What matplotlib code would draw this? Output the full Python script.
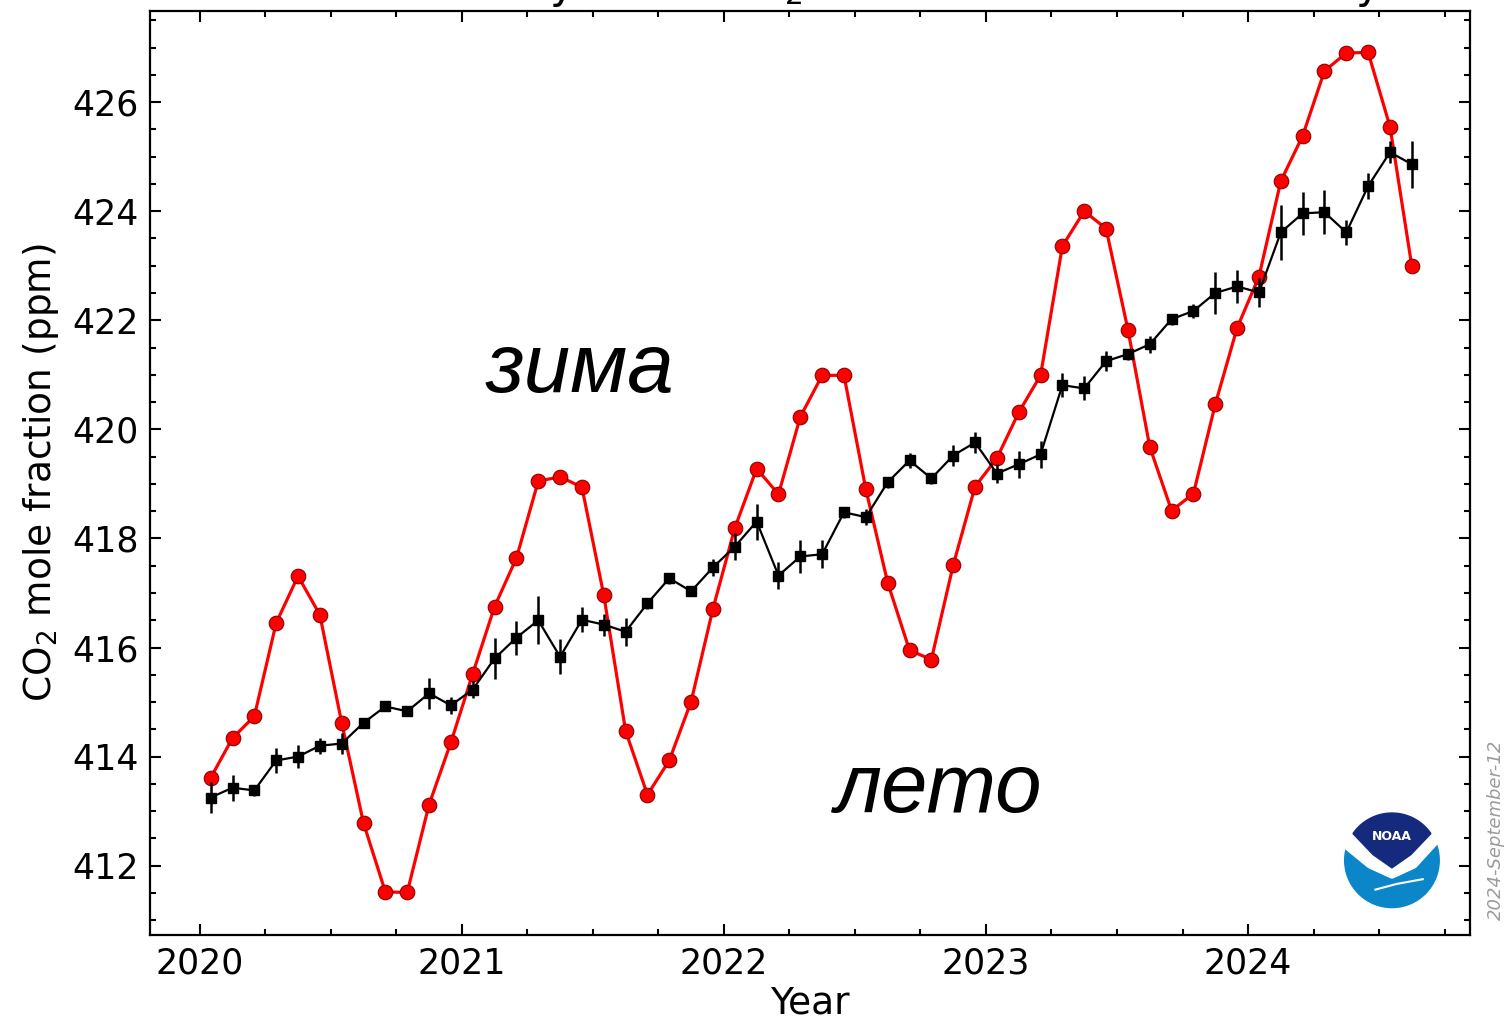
import numpy as np
import matplotlib
matplotlib.use("Agg")
import matplotlib.pyplot as plt
from matplotlib.patches import Circle, Polygon
from matplotlib.ticker import MultipleLocator

# monthly mean CO2 at Mauna Loa (red), Jan 2020 .. Aug 2024
start_year = 2020
monthly_mean = [
    413.61, 414.34, 414.74, 416.45, 417.31, 416.60, 414.62, 412.78, 411.52, 411.51, 413.12, 414.26,
    415.52, 416.75, 417.64, 419.05, 419.13, 418.94, 416.96, 414.47, 413.30, 413.93, 415.01, 416.71,
    418.19, 419.28, 418.81, 420.23, 420.99, 420.99, 418.90, 417.19, 415.95, 415.78, 417.51, 418.95,
    419.47, 420.31, 420.99, 423.36, 424.00, 423.68, 421.83, 419.68, 418.51, 418.82, 420.46, 421.86,
    422.80, 424.55, 425.38, 426.57, 426.90, 426.91, 425.55, 422.99,
]
# seasonally corrected values (black) and their uncertainty
deseason = [
    413.25, 413.43, 413.38, 413.93, 414.00, 414.20, 414.24, 414.62, 414.92, 414.83, 415.16, 414.94,
    415.23, 415.80, 416.18, 416.50, 415.83, 416.51, 416.42, 416.29, 416.81, 417.27, 417.03, 417.47,
    417.85, 418.31, 417.32, 417.67, 417.71, 418.48, 418.39, 419.03, 419.43, 419.10, 419.52, 419.76,
    419.19, 419.36, 419.54, 420.81, 420.75, 421.25, 421.38, 421.56, 422.02, 422.17, 422.50, 422.62,
    422.51, 423.61, 423.96, 423.98, 423.61, 424.46, 425.08, 424.86,
]
deseason_err = [
    0.28, 0.24, 0.10, 0.23, 0.21, 0.15, 0.20, 0.08, 0.08, 0.08, 0.29, 0.15,
    0.15, 0.38, 0.31, 0.44, 0.32, 0.23, 0.20, 0.26, 0.10, 0.10, 0.08, 0.15,
    0.25, 0.33, 0.25, 0.31, 0.26, 0.10, 0.15, 0.10, 0.13, 0.10, 0.20, 0.20,
    0.18, 0.25, 0.25, 0.22, 0.22, 0.18, 0.10, 0.16, 0.10, 0.13, 0.38, 0.30,
    0.26, 0.50, 0.39, 0.40, 0.23, 0.24, 0.20, 0.43,
]
year_ticks = [2020, 2021, 2022, 2023, 2024]
ppm_ticks = [412, 414, 416, 418, 420, 422, 424, 426]

decimal_date = start_year + (np.arange(len(monthly_mean)) + 0.5) / 12.0

fs = 25

fig = plt.figure(figsize=(15.04, 10.26), dpi=100)
ax = fig.add_axes([0.0997, 0.0887, 0.8777, 0.9006])

ax.plot(decimal_date, monthly_mean, color='red', lw=2.3, marker='o',
        markersize=10.5, markerfacecolor='red', markeredgecolor='#8b0000',
        markeredgewidth=0.8, zorder=3)
ax.errorbar(decimal_date, deseason, yerr=deseason_err, color='black', lw=1.6,
            elinewidth=1.8, capsize=0, marker='s', markersize=6.5, zorder=4)

ax.set_xlim(2019.81, 2024.847)
ax.set_ylim(410.73, 427.67)
ax.set_xticks(year_ticks)
ax.set_yticks(ppm_ticks)
ax.xaxis.set_minor_locator(MultipleLocator(0.25))
ax.yaxis.set_minor_locator(MultipleLocator(0.5))
ax.tick_params(which='both', direction='in', top=True, right=True,
               labelsize=fs, width=1.5, pad=8)
ax.tick_params(which='major', length=8)
ax.tick_params(which='minor', length=4.5)
for s in ax.spines.values():
    s.set_linewidth(1.6)

ax.set_xlabel("Year", fontsize=27, labelpad=4)
ax.set_ylabel("CO$_2$ mole fraction (ppm)", fontsize=27, labelpad=8)

# season labels
ax.text(2021.09, 420.68, "зима", fontsize=60, style='italic',
        family='Liberation Sans', ha='left', va='baseline')
ax.text(2022.425, 412.99, "лето", fontsize=60, style='italic',
        family='Liberation Sans', ha='left', va='baseline')

# title, mostly above the top edge as in the source
fig.text(0.5386, 1.0015, "Recent monthly mean CO$_2$ at Mauna Loa Observatory",
         fontsize=30.5, ha='center', va='baseline')

# date stamp
fig.text(0.9945, 0.191, "2024-September-12", rotation=90, fontsize=13,
         color='#9a9a9a', style='italic', ha='center', va='center')

# NOAA logo
lax = fig.add_axes([0.8925, 0.113, 0.066, 0.097])
lax.set_xlim(-1.05, 1.05)
lax.set_ylim(-1.05, 1.05)
lax.set_aspect('equal')
lax.axis('off')
lax.add_patch(Circle((0, 0), 1.0, color='#0a86c9'))
t = np.linspace(-1.05, 1.05, 60)
lower = np.interp(t, [-1.05, -0.5, 0.0, 0.5, 1.05], [0.3, -0.15, -0.38, -0.15, 0.45])
wpoly = np.column_stack([np.r_[t, 1.05, -1.05], np.r_[lower, 1.1, 1.1]])
lax.add_patch(Polygon(wpoly, closed=True, color='white'))
ang = np.linspace(np.radians(35), np.radians(145), 40)
top = np.column_stack([np.cos(ang), np.sin(ang)])
dark = np.vstack([top, [[-0.82, 0.56], [-0.4, 0.12], [0.0, -0.16], [0.4, 0.12], [0.82, 0.56]]])
lax.add_patch(Polygon(dark, closed=True, color='#152a7c'))
lax.plot([-0.35, 0.1, 0.65], [-0.62, -0.5, -0.4], color='white', lw=1.5)
lax.text(0, 0.5, "NOAA", color='white', fontsize=9, fontweight='bold',
         ha='center', va='center')

fig.savefig("out.png", dpi=100)
